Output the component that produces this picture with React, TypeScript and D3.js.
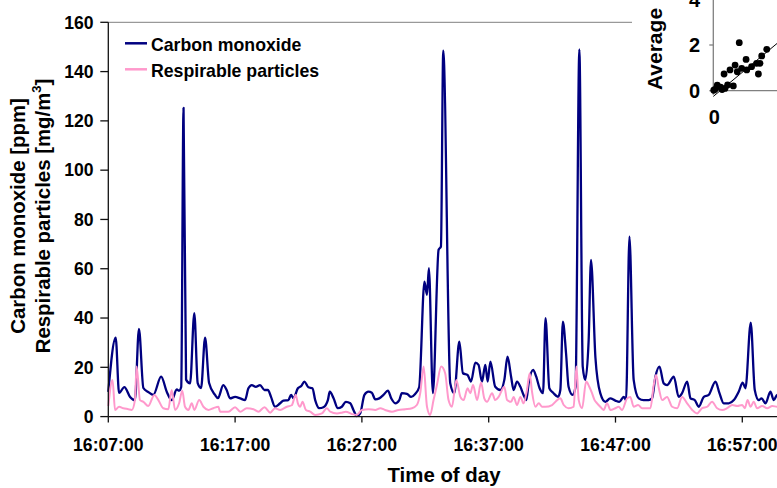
import React from "react";
import * as d3 from "d3";

// time axis starts at 16:07:00, samples given as seconds after that
const startTime = "16:07:00";
const timeTicks = ["16:07:00", "16:17:00", "16:27:00", "16:37:00", "16:47:00", "16:57:00"];
const yTicks = [0, 20, 40, 60, 80, 100, 120, 140, 160];

const coSeconds = [0, 35, 51, 76, 103, 126, 145, 166, 189, 213, 250, 277, 300, 324, 335, 345, 356, 368, 387, 407, 423, 439, 458, 477, 505, 519, 544, 560, 576, 600, 624, 647, 663, 679, 698, 718, 739, 755, 770, 789, 813, 829, 852, 865, 876, 897, 913, 928, 947, 966, 979, 998, 1018, 1039, 1048, 1066, 1086, 1105, 1124, 1145, 1160, 1176, 1192, 1212, 1231, 1247, 1263, 1282, 1302, 1323, 1339, 1358, 1377, 1389, 1413, 1433, 1452, 1471, 1496, 1508, 1517, 1536, 1563, 1574, 1585, 1618, 1637, 1661, 1678, 1700, 1716, 1737, 1752, 1768, 1784, 1795, 1808, 1831, 1855, 1874, 1889, 1906, 1918, 1934, 1950, 1965, 1978, 1989, 2010, 2025, 2041, 2057, 2069, 2087, 2107, 2128, 2139, 2151, 2166, 2178, 2197, 2211, 2229, 2245, 2257, 2273, 2284, 2305, 2328, 2352, 2375, 2399, 2418, 2439, 2450, 2466, 2486, 2510, 2533, 2557, 2573, 2589, 2608, 2628, 2644, 2676, 2699, 2715, 2739, 2755, 2775, 2794, 2818, 2841, 2873, 2892, 2912, 2936, 2960, 2983, 3002, 3015, 3040, 3059, 3078, 3091, 3110, 3133, 3149, 3165, 3190];
const coPpm = [10, 32, 9.6, 12, 8, 6.7, 35.6, 11.6, 10, 8.8, 16.2, 10, 6.7, 11, 10.5, 12, 125.3, 15, 13.5, 42, 13.6, 11.6, 32, 13.6, 8.8, 7.5, 12.8, 10.8, 7.4, 8, 7.4, 6.7, 11.5, 12.8, 12.1, 12.8, 10.8, 10.8, 8, 4, 5.4, 6.5, 6.7, 8.8, 7.4, 11.5, 12.4, 14.2, 11.9, 11.5, 6.7, 3.4, 3.8, 6.7, 10.1, 7.4, 3.4, 4, 6, 5.4, 2.7, 0.2, 1.3, 8.8, 10.1, 9.7, 7, 7.4, 8.8, 10.5, 7.4, 5.4, 6.7, 9.5, 9.2, 8, 9.2, 11.9, 54.8, 49.4, 60.2, 9.5, 67.7, 69, 148.5, 13.5, 9.5, 30.4, 17.6, 16.9, 14.2, 21.9, 21, 14.2, 21, 14.2, 22.3, 12.1, 10.8, 14.9, 24.3, 16.2, 10.8, 14.2, 12.1, 8.8, 6.7, 13.5, 18.9, 16.2, 11.5, 9.5, 39.9, 11.5, 9.5, 8, 10.8, 38.5, 25.7, 12.1, 8.8, 12.1, 149, 20.3, 14.9, 31, 63.6, 24, 9.5, 6, 7.4, 6.5, 6, 8, 6.7, 73, 14.9, 7.4, 6.7, 6.7, 7.4, 16.2, 20.3, 13.5, 12.8, 16.2, 8, 9.5, 14.2, 7.4, 6.7, 4, 8, 8.8, 14.2, 9.5, 5.4, 5.4, 6.7, 10.1, 13.8, 11.5, 38.1, 10.8, 6.7, 7.4, 5.4, 10.1, 6.7, 8.8, 7];

const rpSeconds = [0, 20, 32, 51, 71, 95, 111, 126, 134, 150, 166, 189, 218, 237, 260, 284, 300, 316, 335, 350, 363, 379, 395, 407, 430, 450, 474, 497, 521, 529, 568, 600, 624, 655, 687, 710, 739, 766, 789, 813, 845, 868, 887, 897, 908, 919, 935, 955, 979, 1011, 1034, 1050, 1082, 1105, 1124, 1153, 1176, 1200, 1231, 1263, 1287, 1310, 1342, 1373, 1405, 1437, 1460, 1476, 1492, 1508, 1523, 1539, 1555, 1575, 1594, 1610, 1626, 1647, 1666, 1681, 1700, 1713, 1726, 1745, 1764, 1779, 1792, 1816, 1831, 1847, 1874, 1887, 1906, 1918, 1934, 1950, 1965, 1981, 1994, 2005, 2021, 2037, 2053, 2068, 2100, 2124, 2139, 2155, 2178, 2202, 2215, 2226, 2242, 2261, 2276, 2289, 2301, 2313, 2328, 2344, 2360, 2376, 2399, 2415, 2431, 2455, 2470, 2486, 2507, 2526, 2550, 2565, 2581, 2592, 2605, 2621, 2644, 2668, 2692, 2715, 2739, 2763, 2786, 2810, 2834, 2857, 2881, 2905, 2928, 2952, 2976, 2999, 3012, 3025, 3039, 3054, 3070, 3094, 3118, 3142, 3165, 3190];
const rpMg = [4.3, 14.9, 2.7, 4, 3.4, 3, 2.7, 6.7, 20.3, 6.7, 6, 4.3, 8.8, 6.7, 3.4, 3, 10.8, 2.7, 5.4, 10.5, 4, 2.7, 5.4, 2.7, 6.7, 4, 2.7, 3.4, 4, 2, 2, 3.8, 2, 3.4, 3, 2, 3.8, 1.6, 3.4, 2.7, 4, 4.6, 8.8, 5.4, 4, 6, 2.7, 2, 0.7, 1.3, 3.4, 2, 1.3, 1.6, 2, 1, 0.7, 2.7, 3, 2.7, 3.4, 2.7, 2, 2.7, 3, 3.4, 4.7, 9.5, 20.3, 4, 0.7, 6.7, 12.8, 20.3, 17.6, 6.7, 4, 14.9, 8, 6.7, 11.5, 9.5, 12.8, 6.7, 13.8, 7.4, 6, 9.5, 6.7, 8, 12.1, 6.7, 6, 8, 4.7, 8, 5.4, 10.8, 17.6, 10.1, 4, 5.4, 4, 4, 4.7, 6.7, 7.4, 4.7, 3.4, 4, 20.3, 6.7, 3.4, 14.2, 12.1, 9.5, 6.7, 5.4, 4, 2.7, 5.4, 2.7, 3.4, 4, 2.7, 7.4, 8, 4, 4.7, 3.4, 3.4, 3.4, 12.8, 16.9, 11.5, 6.7, 8, 4, 3.4, 8, 5.4, 2.7, 1.3, 3.4, 4, 6, 3.4, 2.7, 3.4, 4.7, 4.3, 4.7, 3.4, 6.7, 4, 6, 3.4, 4.3, 3.4, 4.3, 4, 4];

// inset scatter (partly off the page)
const insetX = [0.02, 0.08, 0.18, 0.33, 0.4, 0.53, 0.65, 0.91, 0.49, 0.76, 0.99, 1.09, 1.18, 1.29, 1.49, 1.52, 1.74, 1.97, 2.05, 2.12, 2.2, 2.43];
const insetY = [0.02, 0.06, 0.24, 0.15, 0.05, 0.1, 0.25, 0.21, 0.73, 0.91, 1.12, 0.83, 2.1, 0.98, 1.37, 0.91, 1.05, 1.2, 0.73, 1.2, 1.52, 1.81];
const insetFit = { slope: 0.8, intercept: -0.25 };
const insetYTicks = [0, 2, 4];
const insetXTicks = [0];

const NAVY = "#000080";
const PINK = "#ff99cc";
const FONT = "'Liberation Sans', Arial, sans-serif";

const parseTime = d3.timeParse("%H:%M:%S");
const t0 = parseTime(startTime) as Date;
const at = (s: number) => new Date(t0.getTime() + s * 1000);

export default function App() {
  const left = 108.3;
  const pxPerSec = 0.21133;
  const x = d3.scaleTime().domain([t0, at(3300)]).range([left, left + 3300 * pxPerSec]);
  const y = d3.scaleLinear().domain([0, 160]).range([416.6, 22.3]);

  const line = d3
    .line<[number, number]>()
    .x(d => x(at(d[0])))
    .y(d => y(d[1]))
    .curve(d3.curveMonotoneX);

  const coPts = coSeconds.map((s, i) => [s, coPpm[i]] as [number, number]);
  const rpPts = rpSeconds.map((s, i) => [s, rpMg[i]] as [number, number]);

  // inset scales
  const ix = d3.scaleLinear().domain([0, 3]).range([713.3, 713.3 + 66]);
  const iy = d3.scaleLinear().domain([0, 4]).range([90.7, -0.7]);

  const y0 = y(0);

  return (
    <svg width={777} height={488} style={{ position: "absolute", left: 0, top: 0, background: "#fff" }} fontFamily={FONT}>
      {/* plot frame */}
      <line x1={left} x2={777} y1={y(160)} y2={y(160)} stroke="#808080" strokeWidth={1} />

      {/* series */}
      <path d={line(coPts) || ""} fill="none" stroke={NAVY} strokeWidth={2.3} strokeLinejoin="round" />
      <path d={line(rpPts) || ""} fill="none" stroke={PINK} strokeWidth={2} strokeLinejoin="round" />

      {/* y axis */}
      <line x1={left} x2={left} y1={y(160)} y2={y0} stroke="#111" strokeWidth={1.3} />
      {yTicks.map(v => (
        <g key={v}>
          <line x1={left - 8} x2={left} y1={y(v)} y2={y(v)} stroke="#111" strokeWidth={1.3} />
          <text x={93.5} y={y(v)} dy="0.36em" textAnchor="end" fontSize={17.6} fontWeight="bold">
            {v}
          </text>
        </g>
      ))}

      {/* x axis */}
      <line x1={left} x2={777} y1={y0} y2={y0} stroke="#111" strokeWidth={1.3} />
      {timeTicks.map(lbl => {
        const tx = x(parseTime(lbl) as Date);
        return (
          <g key={lbl}>
            <line x1={tx} x2={tx} y1={y0} y2={y0 + 6} stroke="#111" strokeWidth={1.3} />
            <text x={tx} y={450.5} textAnchor="middle" fontSize={17.6} fontWeight="bold">
              {lbl}
            </text>
          </g>
        );
      })}

      {/* axis titles */}
      <text x={444} y={481.5} textAnchor="middle" fontSize={20.4} fontWeight="bold">
        Time of day
      </text>
      <text transform="translate(25,216) rotate(-90)" textAnchor="middle" fontSize={20.4} fontWeight="bold">
        Carbon monoxide [ppm]
      </text>
      <text transform="translate(50,216) rotate(-90)" textAnchor="middle" fontSize={20.4} fontWeight="bold">
        Respirable particles [mg/m
        <tspan fontSize={13} dy={-9}>3</tspan>
        <tspan dy={9}>]</tspan>
      </text>

      {/* legend */}
      <g fontSize={17.7} fontWeight="bold">
        <line x1={125} x2={147} y1={43.3} y2={43.3} stroke={NAVY} strokeWidth={2.5} />
        <text x={151} y={51}>Carbon monoxide</text>
        <line x1={125} x2={147} y1={69.3} y2={69.3} stroke={PINK} strokeWidth={2.5} />
        <text x={151} y={76.5}>Respirable particles</text>
      </g>

      {/* inset chart */}
      <g>
        <rect x={632} y={0} width={145} height={132} fill="#fff" />
        <text transform="translate(662,49) rotate(-90)" textAnchor="middle" fontSize={21} fontWeight="bold">
          Average
        </text>
        <line x1={ix(0)} x2={ix(0)} y1={0} y2={iy(0)} stroke="#808080" strokeWidth={1.3} />
        <line x1={ix(0)} x2={777} y1={iy(0)} y2={iy(0)} stroke="#808080" strokeWidth={1.3} />
        {insetYTicks.map(v => (
          <g key={v}>
            <line x1={ix(0) - 4} x2={ix(0)} y1={iy(v)} y2={iy(v)} stroke="#808080" strokeWidth={1.3} />
            <text x={700} y={iy(v)} dy="0.36em" textAnchor="end" fontSize={20} fontWeight="bold">
              {v}
            </text>
          </g>
        ))}
        {insetXTicks.map(v => (
          <g key={v}>
            <line x1={ix(v)} x2={ix(v)} y1={iy(0)} y2={iy(0) + 4} stroke="#808080" strokeWidth={1.3} />
            <text x={ix(v) + 1} y={124} textAnchor="middle" fontSize={20} fontWeight="bold">
              {v}
            </text>
          </g>
        ))}
        <line
          x1={ix(0)}
          x2={ix(3)}
          y1={iy(insetFit.intercept)}
          y2={iy(insetFit.slope * 3 + insetFit.intercept)}
          stroke="#000"
          strokeWidth={1}
        />
        {insetX.map((v, i) => (
          <circle key={i} cx={ix(v)} cy={iy(insetY[i])} r={3.4} fill="#000" />
        ))}
      </g>
    </svg>
  );
}
